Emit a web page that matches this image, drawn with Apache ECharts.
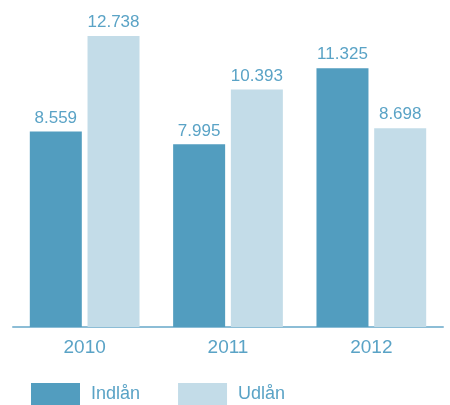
<!DOCTYPE html>
<html><head><meta charset="utf-8">
<script src="https://cdn.jsdelivr.net/npm/echarts@6/dist/echarts.min.js"></script>
<style>html,body{margin:0;padding:0;background:#fff}#c{width:450px;height:405px}</style>
</head><body><div id="c"></div>
<script>
const categories = ['2010', '2011', '2012'];
const indlaan = [8.559, 7.995, 11.325];
const udlaan = [12.738, 10.393, 8.698];
const seriesNames = ['Indlån', 'Udlån'];

const font = '"Helvetica Neue", Helvetica, "Liberation Sans", Arial, sans-serif';
const labelColor = '#5aa3c6';
const fmt = p => p.value.toFixed(3);

const chart = echarts.init(document.getElementById('c'), null, {renderer: 'canvas'});
chart.setOption({
  animation: false,
  grid: {left: 13, right: 7, top: 30, bottom: 78, containLabel: false},
  legend: {
    left: 31, top: 383, padding: 0, itemWidth: 49, itemHeight: 22, itemGap: 38,
    icon: 'rect',
    textStyle: {color: labelColor, fontSize: 18, fontFamily: font, padding: [0, 0, 0, 6]},
    data: seriesNames
  },
  xAxis: {
    type: 'category', data: categories,
    axisLine: {lineStyle: {color: '#8cbdd6', width: 2}},
    axisTick: {show: false},
    axisLabel: {color: labelColor, fontSize: 19, fontFamily: font, margin: 11}
  },
  yAxis: {type: 'value', min: 0, max: 13, show: false, splitLine: {show: false}},
  series: [
    {name: seriesNames[0], type: 'bar', data: indlaan, barWidth: 52, barGap: '11%',
     itemStyle: {color: '#529dbf'},
     label: {show: true, position: 'top', distance: 5, color: labelColor, fontSize: 17, fontFamily: font, formatter: fmt}},
    {name: seriesNames[1], type: 'bar', data: udlaan, barWidth: 52,
     itemStyle: {color: '#c3dce8'},
     label: {show: true, position: 'top', distance: 5, color: labelColor, fontSize: 17, fontFamily: font, formatter: fmt}}
  ]
});
</script></body></html>
